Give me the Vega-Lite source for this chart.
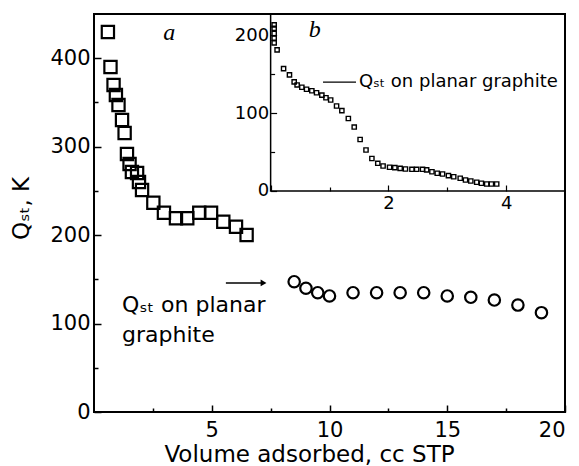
{
  "$schema": "https://vega.github.io/schema/vega-lite/v6.json",
  "width": 471,
  "height": 398,
  "autosize": {"type": "none"},
  "padding": {"left": 94, "top": 14, "right": 14, "bottom": 54},
  "background": "white",
  "config": {
    "view": {"stroke": "black", "strokeWidth": 2},
    "font": "DejaVu Sans",
    "axis": {"grid": false, "labelColor": "black", "tickColor": "black", "titleColor": "black", "titleFontWeight": "normal", "domain": false}
  },
  "datasets": {
    "squares": [
      {"x": 0.59, "y": 429.7}, {"x": 0.70, "y": 390.1}, {"x": 0.83, "y": 369.7}, {"x": 0.93, "y": 358.4},
      {"x": 1.04, "y": 347.1}, {"x": 1.19, "y": 330.2}, {"x": 1.30, "y": 315.5}, {"x": 1.40, "y": 291.7},
      {"x": 1.51, "y": 280.4}, {"x": 1.61, "y": 271.4}, {"x": 1.83, "y": 270.2}, {"x": 1.91, "y": 260.1},
      {"x": 2.04, "y": 251.0}, {"x": 2.52, "y": 236.7}, {"x": 2.97, "y": 225.3}, {"x": 3.48, "y": 219.0},
      {"x": 3.96, "y": 219.0}, {"x": 4.47, "y": 225.3}, {"x": 4.97, "y": 225.3}, {"x": 5.49, "y": 215.2},
      {"x": 6.03, "y": 209.5}, {"x": 6.48, "y": 200.1}
    ],
    "circles": [
      {"x": 8.5, "y": 147.3}, {"x": 9.0, "y": 139.9}, {"x": 9.5, "y": 134.9}, {"x": 10.0, "y": 131.2},
      {"x": 11.0, "y": 134.9}, {"x": 12.0, "y": 134.9}, {"x": 13.0, "y": 134.9}, {"x": 14.0, "y": 134.9},
      {"x": 15.0, "y": 131.2}, {"x": 16.0, "y": 129.7}, {"x": 17.0, "y": 126.6}, {"x": 18.0, "y": 120.9},
      {"x": 19.0, "y": 112.3}
    ],
    "inset": [
      {"x": 0.06, "y": 213}, {"x": 0.06, "y": 208.6}, {"x": 0.06, "y": 202}, {"x": 0.06, "y": 196},
      {"x": 0.06, "y": 190}, {"x": 0.11, "y": 181}, {"x": 0.22, "y": 157}, {"x": 0.32, "y": 149},
      {"x": 0.40, "y": 140}, {"x": 0.45, "y": 136}, {"x": 0.53, "y": 133}, {"x": 0.61, "y": 130.5},
      {"x": 0.70, "y": 128.5}, {"x": 0.78, "y": 126}, {"x": 0.87, "y": 123}, {"x": 0.94, "y": 119.6},
      {"x": 1.02, "y": 116.7}, {"x": 1.12, "y": 109}, {"x": 1.21, "y": 103}, {"x": 1.32, "y": 93},
      {"x": 1.42, "y": 82}, {"x": 1.52, "y": 66}, {"x": 1.62, "y": 52.6}, {"x": 1.72, "y": 41.7},
      {"x": 1.82, "y": 35.5}, {"x": 1.91, "y": 32}, {"x": 2.02, "y": 30.4}, {"x": 2.11, "y": 30},
      {"x": 2.20, "y": 29}, {"x": 2.29, "y": 28.2}, {"x": 2.40, "y": 27.8}, {"x": 2.48, "y": 27.8},
      {"x": 2.58, "y": 27.8}, {"x": 2.65, "y": 27}, {"x": 2.74, "y": 24.7}, {"x": 2.83, "y": 22.7},
      {"x": 2.92, "y": 21.8}, {"x": 3.02, "y": 19.6}, {"x": 3.11, "y": 18.3}, {"x": 3.22, "y": 16.3},
      {"x": 3.31, "y": 14.1}, {"x": 3.40, "y": 12.8}, {"x": 3.50, "y": 11.2}, {"x": 3.58, "y": 9.9},
      {"x": 3.67, "y": 9}, {"x": 3.75, "y": 9}, {"x": 3.84, "y": 9}
    ]
  },
  "layer": [
    {
      "layer": [
        {
          "data": {"name": "squares"},
          "mark": {"type": "point", "shape": "square", "size": 150, "strokeWidth": 2.2, "color": "black", "opacity": 1},
          "encoding": {
            "x": {"field": "x", "type": "quantitative", "scale": {"domain": [0, 20], "nice": false, "zero": false},
              "title": "Volume adsorbed, cc STP",
              "axis": {
                "orient": "bottom",
                "values": [2.5, 5, 7.5, 10, 12.5, 15, 17.5, 20],
                "labelExpr": "datum.value % 5 === 0 ? datum.label : ''",
                "tickSize": {"condition": {"test": "datum.value % 5 === 0", "value": -7}, "value": -4},
                "tickWidth": 1.5,
                "labelFontSize": 21,
                "labelPadding": 14,
                "title": "Volume adsorbed, cc STP",
                "titleFontSize": 23,
                "titleX": 215,
                "titleY": 49,
                "titleBaseline": "alphabetic",
                "titleAlign": "center"
              }
            },
            "y": {"field": "y", "type": "quantitative", "scale": {"domain": [0, 450], "nice": false, "zero": false},
              "title": "Qₛₜ, K",
              "axis": {
                "orient": "left",
                "values": [0, 50, 100, 150, 200, 250, 300, 350, 400],
                "labelExpr": "datum.value % 100 === 0 ? datum.label : ''",
                "tickSize": {"condition": {"test": "datum.value % 100 === 0", "value": -7}, "value": -4},
                "tickWidth": 1.5,
                "labelFontSize": 21,
                "labelPadding": 11,
                "title": "Qₛₜ, K",
                "titleFontSize": 23,
                "titleAngle": -90,
                "titleX": -73,
                "titleY": 194,
                "titleBaseline": "middle",
                "titleAlign": "center"
              }
            }
          }
        },
        {
          "data": {"name": "circles"},
          "mark": {"type": "point", "shape": "circle", "size": 130, "strokeWidth": 2.2, "color": "black", "opacity": 1},
          "encoding": {
            "x": {"field": "x", "type": "quantitative", "scale": {"domain": [0, 20], "nice": false, "zero": false}},
            "y": {"field": "y", "type": "quantitative", "scale": {"domain": [0, 450], "nice": false, "zero": false}}
          }
        },
        {
          "data": {"values": [{"x": 1.19, "y": 113, "label": "Qₛₜ on planar"}, {"x": 1.19, "y": 79, "label": "graphite"}]},
          "mark": {"type": "text", "align": "left", "baseline": "alphabetic", "fontSize": 22, "font": "DejaVu Sans", "color": "black"},
          "encoding": {
            "x": {"field": "x", "type": "quantitative", "scale": {"domain": [0, 20], "nice": false, "zero": false}},
            "y": {"field": "y", "type": "quantitative", "scale": {"domain": [0, 450], "nice": false, "zero": false}},
            "text": {"field": "label"}
          }
        },
        {
          "data": {"values": [{"x": 3.2, "y": 428, "label": "a"}]},
          "mark": {"type": "text", "align": "center", "baseline": "middle", "fontSize": 24, "font": "Liberation Serif", "fontStyle": "italic", "color": "black"},
          "encoding": {
            "x": {"field": "x", "type": "quantitative", "scale": {"domain": [0, 20], "nice": false, "zero": false}},
            "y": {"field": "y", "type": "quantitative", "scale": {"domain": [0, 450], "nice": false, "zero": false}},
            "text": {"field": "label"}
          }
        },
        {
          "data": {"values": [{"x": 5.6, "x2": 7.1, "y": 145.9}]},
          "mark": {"type": "rule", "strokeWidth": 1.5, "color": "black"},
          "encoding": {
            "x": {"field": "x", "type": "quantitative", "scale": {"domain": [0, 20], "nice": false, "zero": false}},
            "x2": {"field": "x2"},
            "y": {"field": "y", "type": "quantitative", "scale": {"domain": [0, 450], "nice": false, "zero": false}}
          }
        },
        {
          "data": {"values": [{"x": 7.2, "y": 145.9}]},
          "mark": {"type": "point", "shape": "triangle-right", "filled": true, "size": 45, "color": "black", "opacity": 1},
          "encoding": {
            "x": {"field": "x", "type": "quantitative", "scale": {"domain": [0, 20], "nice": false, "zero": false}},
            "y": {"field": "y", "type": "quantitative", "scale": {"domain": [0, 450], "nice": false, "zero": false}}
          }
        }
      ]
    },
    {
      "layer": [
        {
          "data": {"name": "inset"},
          "mark": {"type": "point", "shape": "square", "size": 18, "strokeWidth": 1.4, "color": "black", "opacity": 1},
          "encoding": {
            "x": {"field": "x", "type": "quantitative", "scale": {"domain": [-3, 5], "nice": false, "zero": false},
              "axis": {
                "orient": "bottom",
                "offset": -221,
                "values": [0, 1, 2, 3, 4],
                "format": "d",
                "labelExpr": "datum.value === 2 || datum.value === 4 ? datum.label : ''",
                "tickSize": {"condition": {"test": "datum.value % 2 === 0", "value": -6}, "value": -4},
                "tickWidth": 1.2,
                "labelFontSize": 18,
                "labelPadding": 9,
                "title": null
              }
            },
            "y": {"field": "y", "type": "quantitative", "scale": {"domain": [-283.5, 227], "nice": false, "zero": false},
              "axis": {
                "orient": "left",
                "offset": -176.6,
                "values": [0, 50, 100, 150, 200],
                "format": "d",
                "labelExpr": "datum.value % 100 === 0 ? datum.label : ''",
                "tickSize": {"condition": {"test": "datum.value % 100 === 0", "value": -6}, "value": -4},
                "tickWidth": 1.2,
                "labelFontSize": 18,
                "labelPadding": 8,
                "title": null
              }
            }
          }
        },
        {
          "data": {"values": [{"x": 0, "x2": 5, "y": 0, "y2": 227}]},
          "mark": {"type": "rect", "fillOpacity": 0, "stroke": "black", "strokeWidth": 1.5},
          "encoding": {
            "x": {"field": "x", "type": "quantitative", "scale": {"domain": [-3, 5], "nice": false, "zero": false}, "title": null},
            "x2": {"field": "x2"},
            "y": {"field": "y", "type": "quantitative", "scale": {"domain": [-283.5, 227], "nice": false, "zero": false}, "title": null},
            "y2": {"field": "y2"}
          }
        },
        {
          "data": {"values": [{"x": 0.89, "x2": 1.45, "y": 139.7}]},
          "mark": {"type": "rule", "strokeWidth": 1.3, "color": "black"},
          "encoding": {
            "x": {"field": "x", "type": "quantitative", "scale": {"domain": [-3, 5], "nice": false, "zero": false}, "title": null},
            "x2": {"field": "x2"},
            "y": {"field": "y", "type": "quantitative", "scale": {"domain": [-283.5, 227], "nice": false, "zero": false}, "title": null}
          }
        },
        {
          "data": {"values": [{"x": 1.5, "y": 139.7, "label": "Qₛₜ on planar graphite"}]},
          "mark": {"type": "text", "align": "left", "baseline": "middle", "fontSize": 18, "font": "DejaVu Sans", "color": "black"},
          "encoding": {
            "x": {"field": "x", "type": "quantitative", "scale": {"domain": [-3, 5], "nice": false, "zero": false}, "title": null},
            "y": {"field": "y", "type": "quantitative", "scale": {"domain": [-283.5, 227], "nice": false, "zero": false}, "title": null},
            "text": {"field": "label"}
          }
        },
        {
          "data": {"values": [{"x": 0.75, "y": 206, "label": "b"}]},
          "mark": {"type": "text", "align": "center", "baseline": "middle", "fontSize": 24, "font": "Liberation Serif", "fontStyle": "italic", "color": "black"},
          "encoding": {
            "x": {"field": "x", "type": "quantitative", "scale": {"domain": [-3, 5], "nice": false, "zero": false}, "title": null},
            "y": {"field": "y", "type": "quantitative", "scale": {"domain": [-283.5, 227], "nice": false, "zero": false}, "title": null},
            "text": {"field": "label"}
          }
        }
      ]
    }
  ],
  "resolve": {"scale": {"x": "independent", "y": "independent"}, "axis": {"x": "independent", "y": "independent"}}
}
